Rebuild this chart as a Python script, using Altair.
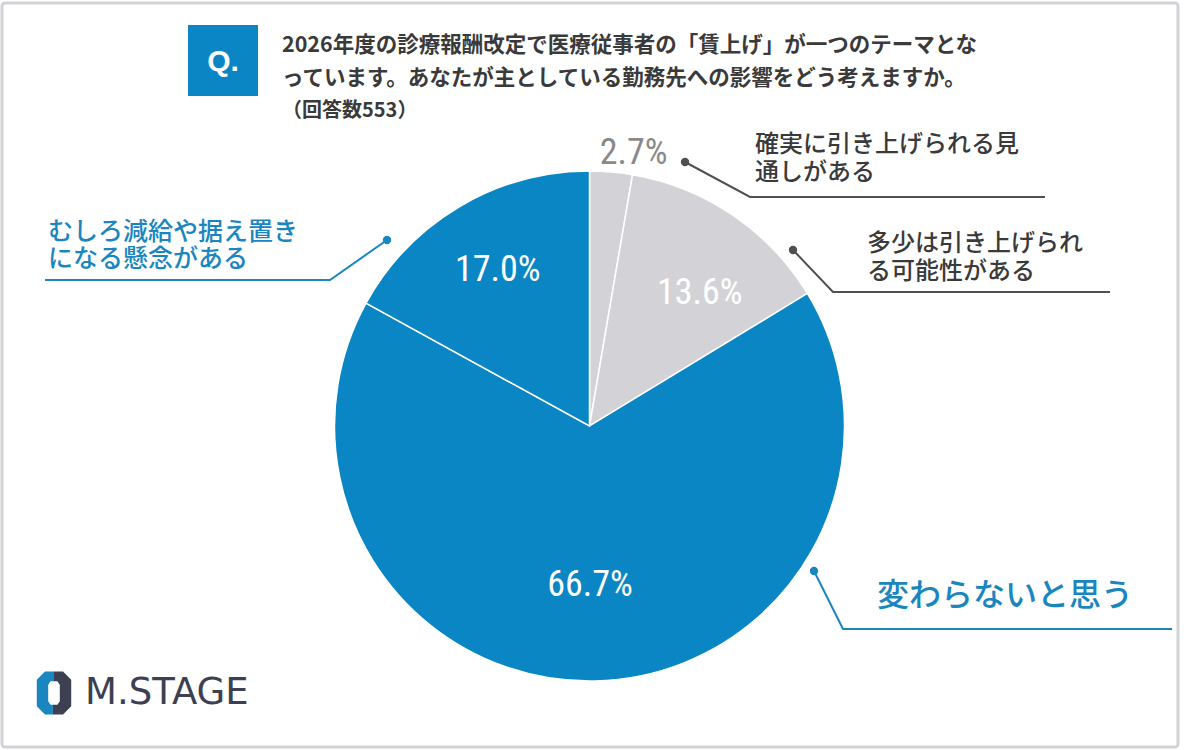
import altair as alt
import pandas as pd

# ---------------- data ----------------
CATEGORIES = [
    "確実に引き上げられる見通しがある",
    "多少は引き上げられる可能性がある",
    "変わらないと思う",
    "むしろ減給や据え置きになる懸念がある",
]
VALUES = [2.7, 13.6, 66.7, 17.0]
PCT_LABELS = ["2.7%", "13.6%", "66.7%", "17.0%"]

TITLE_LINES = [
    "2026年度の診療報酬改定で医療従事者の「賃上げ」が一つのテーマとな",
    "っています。あなたが主としている勤務先への影響をどう考えますか。",
]
RESPONSES = "（回答数553）"
CALLOUT_LINES = [
    ["確実に引き上げられる見", "通しがある"],
    ["多少は引き上げられ", "る可能性がある"],
    ["変わらないと思う"],
    ["むしろ減給や据え置き", "になる懸念がある"],
]
BRAND = "M.STAGE"

# ---------------- styles / layout ----------------
BLUE = "#0986c3"
GRAY_SLICE = "#d3d3d7"
DARK = "#3a3a3a"
SLICE_COLORS = [GRAY_SLICE, GRAY_SLICE, BLUE, BLUE]
PCT_COLORS = ["#8a8a8a", "#ffffff", "#ffffff", "#ffffff"]
CALLOUT_COLORS = ["#3a3a3a", "#3a3a3a", "#1a86c0", "#1a86c0"]
LINE_COLORS = ["#505050", "#505050", "#1a86c0", "#1a86c0"]

W, H = 1200, 750
CX, CY, R = 589.5, 426, 255
JP = "Noto Sans CJK JP"
NARROW = "Liberation Sans Narrow, Roboto Condensed, Roboto"

# label placement: radius (px) and angular nudge (in percent units)
PCT_RADIUS = [277, 173, 159, 181]
PCT_SHIFT = [1.2, 1.5, 0.3, 0.05]

# callout text anchors (left x, first-line y, line gap, font size)
CALLOUT_POS = [(755, 145, 28, 24), (867, 244, 28, 24), (877, 596, 28, 32), (48, 232, 27, 25)]
# leader polylines: dot first, then the bend, then the end of the underline
LEADERS = [
    [(685, 162), (750, 197), (1045, 197)],
    [(793, 250), (833, 292), (1110, 292)],
    [(814, 571), (843, 629), (1172, 629)],
    [(387, 240), (330, 280), (45, 280)],
]

# ---------------- tables ----------------
pie_df = pd.DataFrame({
    "cat": CATEGORIES,
    "value": VALUES,
    "idx": list(range(len(VALUES))),
    "pct": PCT_LABELS,
    "lcolor": PCT_COLORS,
    "lr": PCT_RADIUS,
    "shift": PCT_SHIFT,
})

line_rows, dot_rows = [], []
for i, pts in enumerate(LEADERS):
    for j, (x, y) in enumerate(pts):
        line_rows.append({"id": i, "ord": j, "x": x, "y": y, "c": LINE_COLORS[i]})
    dot_rows.append({"x": pts[0][0], "y": pts[0][1], "c": LINE_COLORS[i]})
lines_df = pd.DataFrame(line_rows)
dots_df = pd.DataFrame(dot_rows)

one = pd.DataFrame({"k": [0]})

# ---------------- layers ----------------
frame = alt.Chart(one).mark_rect(
    fillOpacity=0, stroke="#d5d2d7", strokeWidth=3, cornerRadius=3
).encode(x=alt.value(2), x2=alt.value(1178), y=alt.value(3), y2=alt.value(747))

arcs = alt.Chart(pie_df).mark_arc(outerRadius=R, stroke="white", strokeWidth=1.5).encode(
    theta=alt.Theta("value:Q", stack=True, scale=alt.Scale(domain=[0, 100])),
    order=alt.Order("idx:Q"),
    color=alt.Color("cat:N", scale=alt.Scale(domain=CATEGORIES, range=SLICE_COLORS), legend=None),
    x=alt.value(CX),
    y=alt.value(CY),
)

pct = alt.Chart(pie_df).transform_window(
    cum="sum(value)", sort=[alt.SortField("idx")], frame=[None, 0]
).transform_calculate(
    mid="datum.cum - datum.value / 2 + datum.shift"
).mark_text(font=NARROW, fontSize=36, align="center", baseline="middle").encode(
    theta=alt.Theta("mid:Q", stack=False, scale=alt.Scale(domain=[0, 100])),
    radius=alt.Radius("lr:Q", scale=None),
    text="pct:N",
    color=alt.Color("lcolor:N", scale=None),
    x=alt.value(CX),
    y=alt.value(CY),
)

leader_lines = alt.Chart(lines_df).mark_line(strokeWidth=2).encode(
    x=alt.X("x:Q", scale=None, axis=None),
    y=alt.Y("y:Q", scale=None, axis=None),
    detail="id:N",
    order="ord:Q",
    color=alt.Color("c:N", scale=None),
)
leader_dots = alt.Chart(dots_df).mark_circle(size=70, opacity=1).encode(
    x=alt.X("x:Q", scale=None, axis=None),
    y=alt.Y("y:Q", scale=None, axis=None),
    color=alt.Color("c:N", scale=None),
)

# each callout is one multi-line text block (y = first line)
callout_layers = []
for i, lines in enumerate(CALLOUT_LINES):
    x0, y0, gap, fs = CALLOUT_POS[i]
    callout_layers.append(
        alt.Chart(one).mark_text(
            text="\n".join(lines), lineBreak="\n", lineHeight=gap, font=JP, fontWeight=500,
            fontSize=fs, color=CALLOUT_COLORS[i], align="left", baseline="middle",
        ).encode(x=alt.value(x0), y=alt.value(y0))
    )

title_block = alt.Chart(one).mark_text(
    text="\n".join(TITLE_LINES), lineBreak="\n", lineHeight=33, font=JP, fontWeight="bold",
    fontSize=21.5, color=DARK, align="left", baseline="middle",
).encode(x=alt.value(282), y=alt.value(46))
resp_text = alt.Chart(one).mark_text(
    text=RESPONSES, font=JP, fontWeight="bold", fontSize=20, color=DARK, align="left", baseline="middle",
).encode(x=alt.value(282), y=alt.value(111))

q_box = alt.Chart(one).mark_rect(color=BLUE).encode(
    x=alt.value(188), x2=alt.value(258), y=alt.value(25), y2=alt.value(96)
)
q_text = alt.Chart(one).mark_text(
    text="Q.", font="Liberation Sans, Arial", fontWeight="bold", fontSize=30, color="white",
    align="center", baseline="middle"
).encode(x=alt.value(223), y=alt.value(62))

LOGO_BLUE_PATH = "M 0 -1 L -0.42 -1 L -0.8 -0.62 L -0.8 0.62 L -0.42 1 L -0.05 1 L -0.05 0.55 L -0.16 0.55 L -0.27 0.38 L -0.27 -0.38 L -0.16 -0.55 L 0 -0.55 Z"
LOGO_DARK_PATH = "M 0 -1 L 0.42 -1 L 0.8 -0.62 L 0.8 0.62 L 0.42 1 L -0.05 1 L -0.05 0.55 L 0.16 0.55 L 0.27 0.38 L 0.27 -0.38 L 0.16 -0.55 L 0 -0.55 Z"
logo_dark = alt.Chart(one).mark_point(
    shape=LOGO_DARK_PATH, filled=True, color="#3d4050", opacity=1, size=1850
).encode(x=alt.value(54), y=alt.value(693))
logo_blue = alt.Chart(one).mark_point(
    shape=LOGO_BLUE_PATH, filled=True, color="#1a86c0", opacity=1, size=1850
).encode(x=alt.value(54), y=alt.value(693))
logo_text = alt.Chart(one).mark_text(
    text=BRAND, font="DejaVu Sans", fontSize=37, color="#3d4050", align="left", baseline="middle"
).encode(x=alt.value(85), y=alt.value(693))

chart = alt.layer(
    frame, arcs, pct, leader_lines, leader_dots, *callout_layers, title_block, resp_text,
    q_box, q_text, logo_dark, logo_blue, logo_text
).resolve_scale(
    color="independent", theta="independent"
).properties(
    width=W, height=H, autosize=alt.AutoSizeParams(type="none"), padding=0, background="white"
).configure_view(stroke=None)

chart.save("out.html", embed_options={"renderer": "svg", "actions": False})
